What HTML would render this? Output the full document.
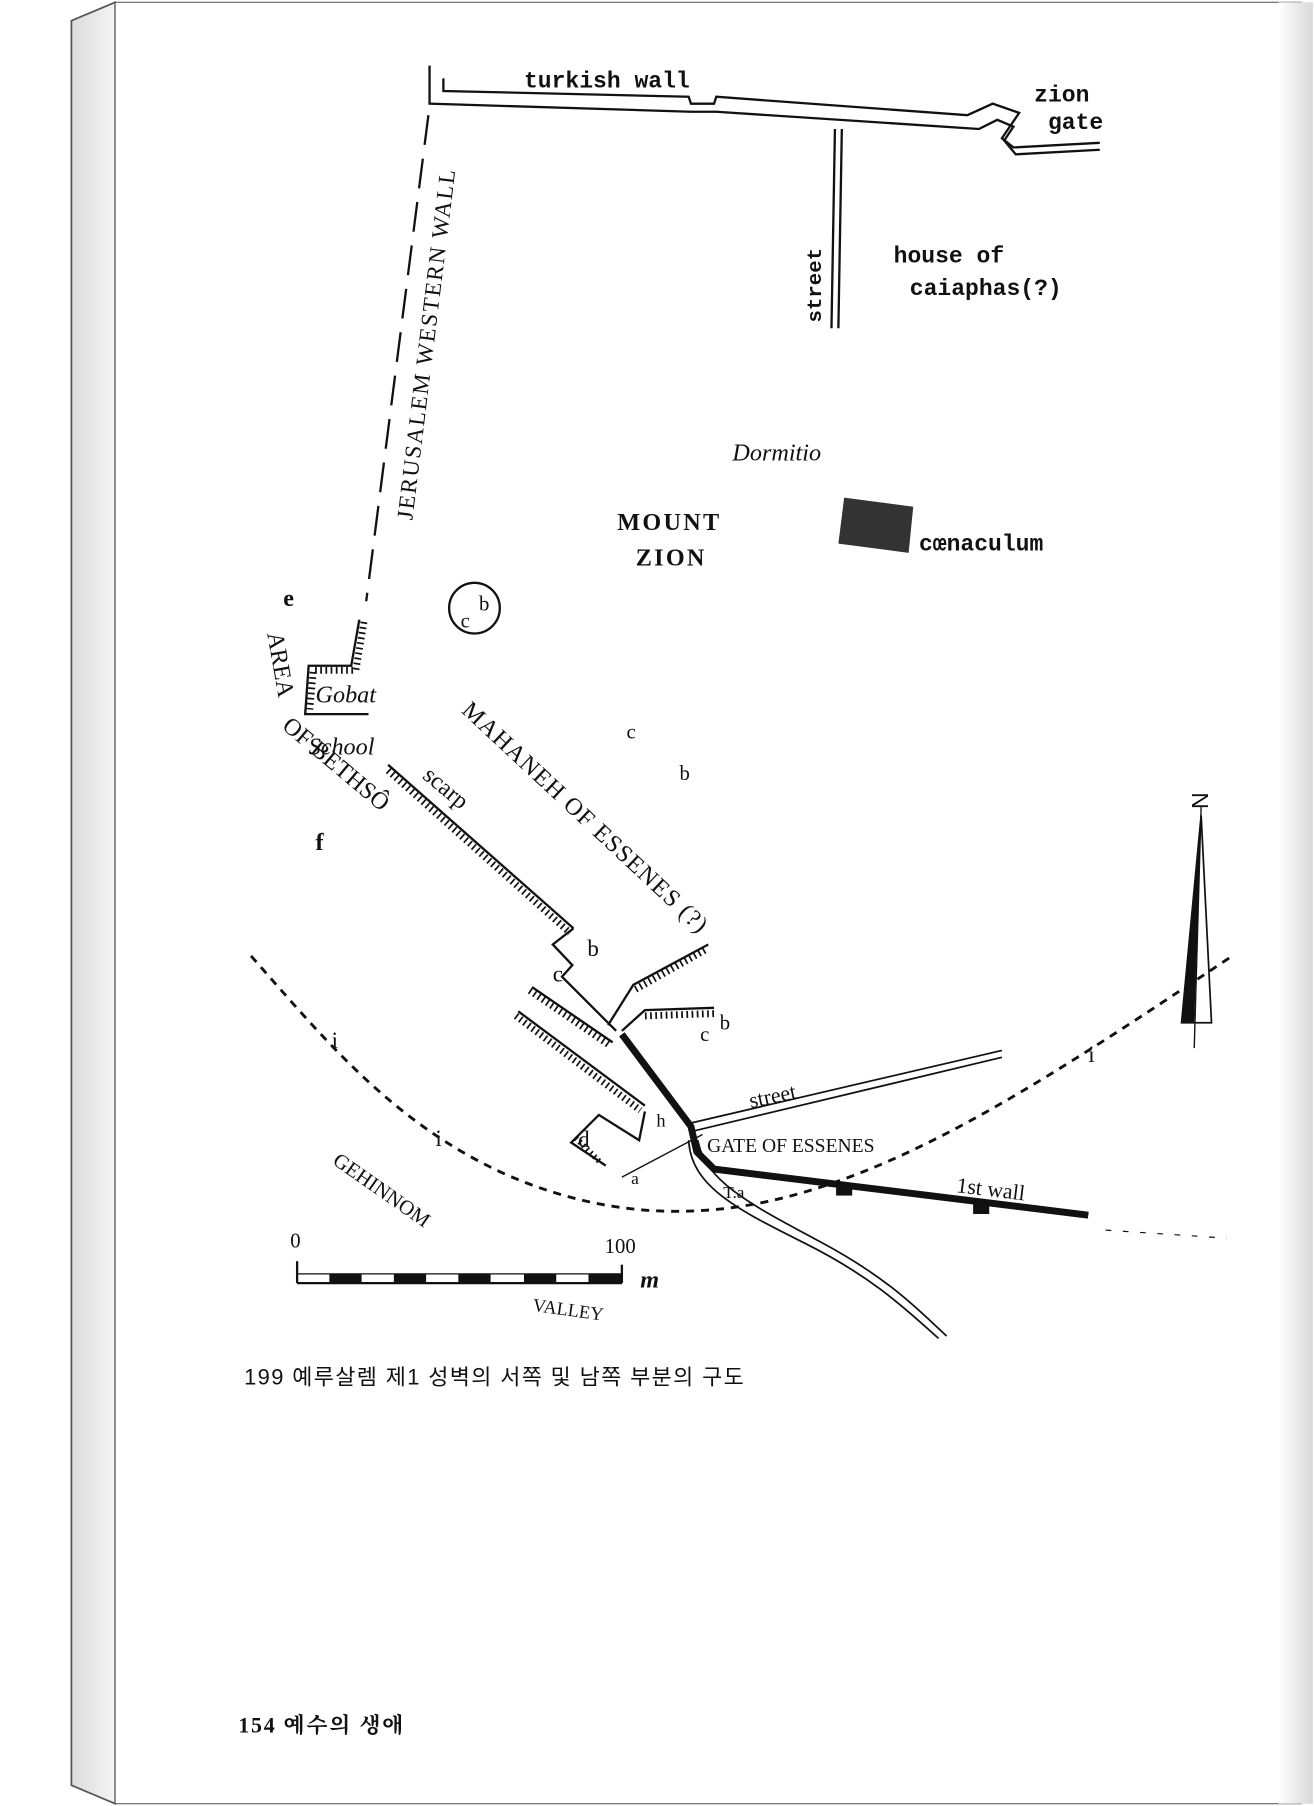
<!DOCTYPE html>
<html><head><meta charset="utf-8"><style>
html,body{margin:0;padding:0;background:#fff;}
svg{display:block;}
text{font-family:"Liberation Serif","Noto Serif CJK SC",serif;fill:#111;}
text.m{font-family:"Liberation Mono",monospace;font-weight:bold;}
text.k{font-family:"Liberation Sans","Noto Sans CJK KR",sans-serif;}
text.s{font-family:"Liberation Sans",sans-serif;}
</style></head><body>
<svg width="1314" height="1806" viewBox="0 0 1141 1568" preserveAspectRatio="none" xmlns="http://www.w3.org/2000/svg">
<defs>
<linearGradient id="sp" x1="0" x2="1"><stop offset="0" stop-color="#dcdcdc"/><stop offset="1" stop-color="#f4f4f4"/></linearGradient>
<linearGradient id="rs" x1="0" x2="1"><stop offset="0" stop-color="#fff"/><stop offset="1" stop-color="#d8d8d8"/></linearGradient>
</defs>
<rect width="1141" height="1568" fill="#fff"/>
<polygon points="62,18 100,2 100,1566 62,1550" fill="url(#sp)" stroke="#555" stroke-width="1.5"/>
<rect x="100" y="2" width="1030" height="1564" fill="#fff" stroke="#666" stroke-width="1"/>
<rect x="1110" y="2" width="30" height="1564" fill="url(#rs)"/>
<g fill="none" stroke="#111" stroke-width="2">
<polyline points="373,57 373,90 600,97 622,97 850,112 866,104 880,110 872,122 882,134 955,130"/>
<polyline points="385,68 385,79 598,84 600,90 620,90 622,84 840,100 862,90 885,98 870,120 880,128 955,124"/>
<line x1="372" y1="100" x2="318" y2="522" stroke-dasharray="26,12"/>
<line x1="725" y1="112" x2="722" y2="285"/><line x1="731" y1="112" x2="728" y2="285"/>
<circle cx="412" cy="528" r="22"/>
<polyline points="312,538 305,578 268,578 265,620 320,620"/>
<polyline points="316,540 309,582 272,582 269,616" stroke-dasharray="1.5,3" stroke-width="6"/>
<line x1="337" y1="664" x2="498" y2="806"/>
<line x1="337" y1="669" x2="495" y2="810" stroke-dasharray="1.5,3" stroke-width="6"/>
<polyline points="498,806 480,820 497,838 488,848 520,880 535,895"/>
<polyline points="462,857 532,905"/>
<polyline points="460,860 530,908" stroke-dasharray="1.5,3" stroke-width="6"/>
<polyline points="450,878 560,960"/>
<polyline points="448,882 556,964" stroke-dasharray="1.5,3" stroke-width="6"/>
<polyline points="615,820 550,855 528,890"/>
<polyline points="612,825 550,860" stroke-dasharray="1.5,3" stroke-width="6"/>
<polyline points="620,875 560,877 540,895"/>
<polyline points="620,880 560,882" stroke-dasharray="1.5,3" stroke-width="6"/>
<polyline points="560,965 555,990 520,968 496,992 526,1012"/>
<polyline points="500,988 522,1010" stroke-dasharray="1.5,3" stroke-width="5"/>
<line x1="540" y1="1022" x2="610" y2="985" stroke-width="1.2"/>
<line x1="600" y1="975" x2="870" y2="912" stroke-width="1.5"/>
<line x1="602" y1="982" x2="870" y2="918" stroke-width="1.5"/>
<path d="M598,990 C600,1030 640,1050 700,1080 S790,1140 815,1162" stroke-width="1.5"/>
<path d="M606,990 C612,1025 650,1045 712,1078 S800,1140 822,1160" stroke-width="1.5"/>
<path d="M218,830 C280,900 340,975 440,1020 C520,1055 600,1060 680,1040 C800,1010 920,930 1070,830" stroke-dasharray="7,6" stroke-width="2.5"/>
<polyline points="540,898 600,978 605,1000 620,1015 945,1055" stroke-width="6"/>
<line x1="960" y1="1068" x2="1065" y2="1075" stroke-dasharray="5,10" stroke-width="1"/>
<line x1="1043" y1="700" x2="1037" y2="910" stroke-width="1.2"/>
<polygon points="1043,708 1052,888 1026,888" stroke-width="1.5"/>
</g>
<polygon points="1043,708 1026,888 1037,888" fill="#111"/>
<rect x="726" y="1028" width="14" height="10" fill="#111"/>
<rect x="845" y="1044" width="14" height="10" fill="#111"/>
<polygon points="733,432 793,440 789,480 728,472" fill="#333"/>
<g stroke="#111" stroke-width="2" fill="none">
<line x1="258" y1="1095" x2="258" y2="1114"/><line x1="540" y1="1098" x2="540" y2="1114"/>
<line x1="258" y1="1114" x2="540" y2="1114"/><line x1="258" y1="1106" x2="540" y2="1106" stroke-width="1"/>
</g>
<g fill="#111"><rect x="286" y="1106" width="28" height="8"/><rect x="342" y="1106" width="28" height="8"/><rect x="398" y="1106" width="28" height="8"/><rect x="455" y="1106" width="28" height="8"/><rect x="511" y="1106" width="29" height="8"/></g>
<g font-size="21">
<text class="m" x="455" y="76" font-size="20">turkish wall</text>
<text class="m" x="898" y="88" font-size="20">zion</text>
<text class="m" x="910" y="112" font-size="20">gate</text>
<text class="m" x="776" y="228" font-size="20">house of</text>
<text class="m" x="790" y="256" font-size="20">caiaphas(?)</text>
<text class="m" transform="translate(713,280) rotate(-90)" font-size="18">street</text>
<text transform="translate(358,452) rotate(-83)" font-size="20" letter-spacing="1.5">JERUSALEM  WESTERN WALL</text>
<text x="636" y="400" font-style="italic">Dormitio</text>
<text x="536" y="460" font-weight="bold" letter-spacing="2">MOUNT</text>
<text x="552" y="491" font-weight="bold" letter-spacing="2">ZION</text>
<text class="m" x="798" y="478" font-size="20">cœnaculum</text>
<text x="400" y="545" font-size="18">c</text><text x="416" y="530" font-size="18">b</text>
<text x="246" y="526" font-weight="bold">e</text>
<text x="274" y="738" font-weight="bold">f</text>
<text transform="translate(232,550) rotate(80)">AREA</text>
<text transform="translate(244,632) rotate(40)">OF BETHSÔ</text>
<text x="274" y="610" font-style="italic">Gobat</text>
<text x="268" y="655" font-style="italic">School</text>
<text transform="translate(366,675) rotate(40)">scarp</text>
<text transform="translate(400,618) rotate(43)" letter-spacing="1">MAHANEH OF ESSENES (?)</text>
<text x="544" y="641" font-size="18">c</text><text x="590" y="677" font-size="18">b</text>
<text x="510" y="830" font-size="20">b</text><text x="480" y="852" font-size="20">c</text>
<text x="608" y="904" font-size="18">c</text><text x="625" y="894" font-size="18">b</text>
<text x="288" y="910" font-size="20">i</text><text x="378" y="995" font-size="20">i</text><text x="945" y="922" font-size="20">i</text>
<text x="502" y="996" font-size="20">d</text><text x="548" y="1028" font-size="15">a</text><text x="570" y="978" font-size="16">h</text>
<text transform="translate(652,962) rotate(-12)" font-size="19">street</text>
<text x="614" y="1000" font-size="17">GATE OF ESSENES</text>
<text x="628" y="1040" font-size="15">T.a</text>
<text transform="translate(830,1035) rotate(7)" font-size="19">1st  wall</text>
<text transform="translate(288,1010) rotate(35)" font-size="18">GEHINNOM</text>
<text transform="translate(462,1138) rotate(8)" font-size="16">VALLEY</text>
<text x="252" y="1083" font-size="18">0</text><text x="525" y="1088" font-size="18">100</text>
<text x="556" y="1118" font-style="italic" font-weight="bold">m</text>
<text class="s" transform="translate(1035,688) rotate(90)" font-size="20">N</text>
</g>
<text class="k" x="212" y="1202" font-size="19" letter-spacing="1.2">199 예루살렘 제1 성벽의 서쪽 및 남쪽 부분의 구도</text>
<text x="207" y="1504" font-size="19" font-weight="bold" letter-spacing="1.5">154  예수의 생애</text>
</svg>
</body></html>
